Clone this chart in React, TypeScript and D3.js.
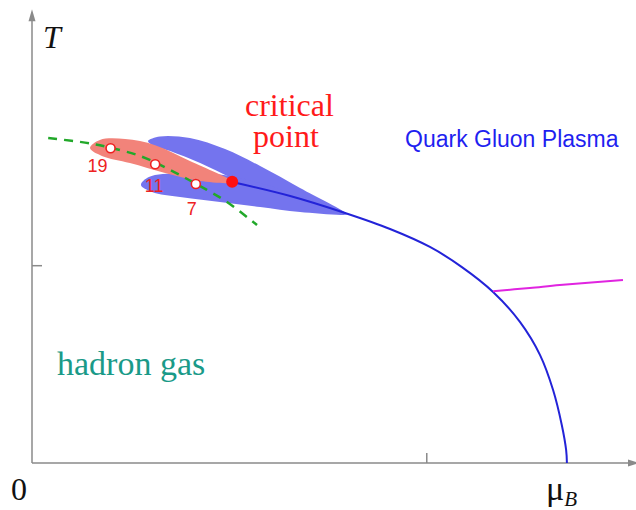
import React from "react";
import * as d3 from "d3";

// Phase diagram of QCD matter: temperature T vs. baryon chemical potential μB.
type Pt = [number, number];

// Axis ticks (μB and T in arbitrary units)
const xTicks: number[] = [1];
const yTicks: number[] = [1];

// Crossover / first-order boundary, from the critical point down to T = 0
const phaseBoundary: Pt[] = [
  [0.507, 1.424], [0.654, 1.353], [0.793, 1.267], [0.907, 1.186],
  [1.008, 1.095], [1.089, 0.993], [1.168, 0.867], [1.236, 0.715],
  [1.287, 0.547], [1.32, 0.37], [1.342, 0.193], [1.353, 0.066], [1.355, 0],
];

// Colour-superconducting transition branch
const magentaLine: Pt[] = [
  [1.168, 0.871], [1.261, 0.887], [1.337, 0.902], [1.497, 0.927],
];

// Freeze-out curve (dashed)
const freezeOut: Pt[] = [
  [0.041, 1.647], [0.147, 1.62], [0.2, 1.597], [0.274, 1.556],
  [0.35, 1.485], [0.443, 1.384], [0.494, 1.323], [0.57, 1.206],
];

// Model predictions for the critical point location (lobes)
const upperLobe: Pt[] = [
  [0.294, 1.632], [0.324, 1.655], [0.4, 1.647], [0.489, 1.591],
  [0.578, 1.505], [0.679, 1.394], [0.798, 1.262], [0.679, 1.333],
  [0.578, 1.394], [0.507, 1.444], [0.426, 1.52], [0.35, 1.581], [0.304, 1.612],
];
const lowerLobe: Pt[] = [
  [0.276, 1.409], [0.296, 1.449], [0.375, 1.468], [0.476, 1.462],
  [0.578, 1.419], [0.679, 1.353], [0.798, 1.262], [0.679, 1.272],
  [0.578, 1.297], [0.476, 1.323], [0.375, 1.348], [0.304, 1.374],
];
const redLobe: Pt[] = [
  [0.147, 1.596], [0.172, 1.637], [0.236, 1.642], [0.312, 1.611],
  [0.4, 1.53], [0.507, 1.424], [0.426, 1.429], [0.337, 1.47],
  [0.248, 1.52], [0.177, 1.556],
];

// Collision energies (GeV) on the freeze-out curve
const energyLabels: string[] = ["19", "11", "7"];
const energyPoints: Pt[] = [[0.199, 1.595], [0.312, 1.514], [0.415, 1.414]];
const labelOffsets: Pt[] = [[-13, 24], [-1, 28], [-4, 31]];

const criticalPoint: Pt = [0.507, 1.426];

const W = 636;
const H = 510;

export default function App() {
  const x = d3.scaleLinear().domain([0, 1.53]).range([32, 636]);
  const y = d3.scaleLinear().domain([0, 2.3]).range([463, 9.2]);

  const line = d3.line<Pt>().x((d) => x(d[0])).y((d) => y(d[1])).curve(d3.curveCatmullRom.alpha(0.5));
  const closed = d3.line<Pt>().x((d) => x(d[0])).y((d) => y(d[1])).curve(d3.curveCatmullRomClosed.alpha(0.5));

  const serif = "'Liberation Serif', 'Times New Roman', serif";
  const sans = "'Liberation Sans', Arial, sans-serif";
  const axisColor = "#8a8a8a";
  const x0 = x(0);
  const y0 = y(0);
  const yTop = y(2.3);

  return (
    <svg width={W} height={H} style={{ position: "absolute", left: 0, top: 0, background: "#fff" }}>
      {/* lobes */}
      <path d={closed(upperLobe) ?? ""} fill="#7474ee" />
      <path d={closed(lowerLobe) ?? ""} fill="#7474ee" />
      <path d={closed(redLobe) ?? ""} fill="#f2837a" />

      {/* axes */}
      <line x1={x0} y1={y0} x2={x0} y2={yTop + 8} stroke={axisColor} strokeWidth={1.5} />
      <path d={`M${x0},${yTop} L${x0 - 3.5},${yTop + 12} L${x0 + 3.5},${yTop + 12} Z`} fill={axisColor} />
      <line x1={x0} y1={y0} x2={W} y2={y0} stroke={axisColor} strokeWidth={1.5} />
      <path d={`M${W + 3},${y0} L${W - 8},${y0 - 3.5} L${W - 8},${y0 + 3.5} Z`} fill={axisColor} />
      {xTicks.map((t) => (
        <line key={`xt${t}`} x1={x(t)} x2={x(t)} y1={y0} y2={y0 - 10} stroke={axisColor} strokeWidth={1.5} />
      ))}
      {yTicks.map((t) => (
        <line key={`yt${t}`} x1={x0} x2={x0 + 10} y1={y(t)} y2={y(t)} stroke={axisColor} strokeWidth={1.5} />
      ))}

      {/* curves */}
      <path d={line(phaseBoundary) ?? ""} fill="none" stroke="#2323d8" strokeWidth={2} />
      <path d={line(magentaLine) ?? ""} fill="none" stroke="#e024e0" strokeWidth={2} />
      <path d={line(freezeOut) ?? ""} fill="none" stroke="#22a82a" strokeWidth={2.5} strokeDasharray="9,7" />

      {/* energies */}
      {energyPoints.map((p, i) => (
        <g key={energyLabels[i]}>
          <circle cx={x(p[0])} cy={y(p[1])} r={4.5} fill="#fff" stroke="#ee2020" strokeWidth={1.6} />
          <text
            x={x(p[0]) + labelOffsets[i][0]}
            y={y(p[1]) + labelOffsets[i][1]}
            textAnchor="middle"
            fontFamily={sans}
            fontSize={18}
            fill="#ee2222"
          >
            {energyLabels[i]}
          </text>
        </g>
      ))}
      <circle cx={x(criticalPoint[0])} cy={y(criticalPoint[1])} r={6} fill="#ff1010" />

      {/* text */}
      <text x={43} y={48} fontFamily={serif} fontStyle="italic" fontSize={32} fill="#111">T</text>
      <text x={19} y={500} textAnchor="middle" fontFamily={serif} fontSize={32} fill="#111">0</text>
      <text x={546} y={500} fontFamily={serif} fontSize={34} fill="#111">
        μ<tspan fontStyle="italic" fontSize={21} dy={6}>B</tspan>
      </text>
      <text fontFamily={serif} fontSize={32} fill="#ff1a1a">
        <tspan x={245} y={116}>critical</tspan>
        <tspan x={253} y={147}>point</tspan>
      </text>
      <text x={405} y={147} fontFamily={sans} fontSize={23} fill="#1f1ff0">Quark Gluon Plasma</text>
      <text x={57} y={375} fontFamily={serif} fontSize={34} fill="#1a9a88">hadron gas</text>
    </svg>
  );
}
